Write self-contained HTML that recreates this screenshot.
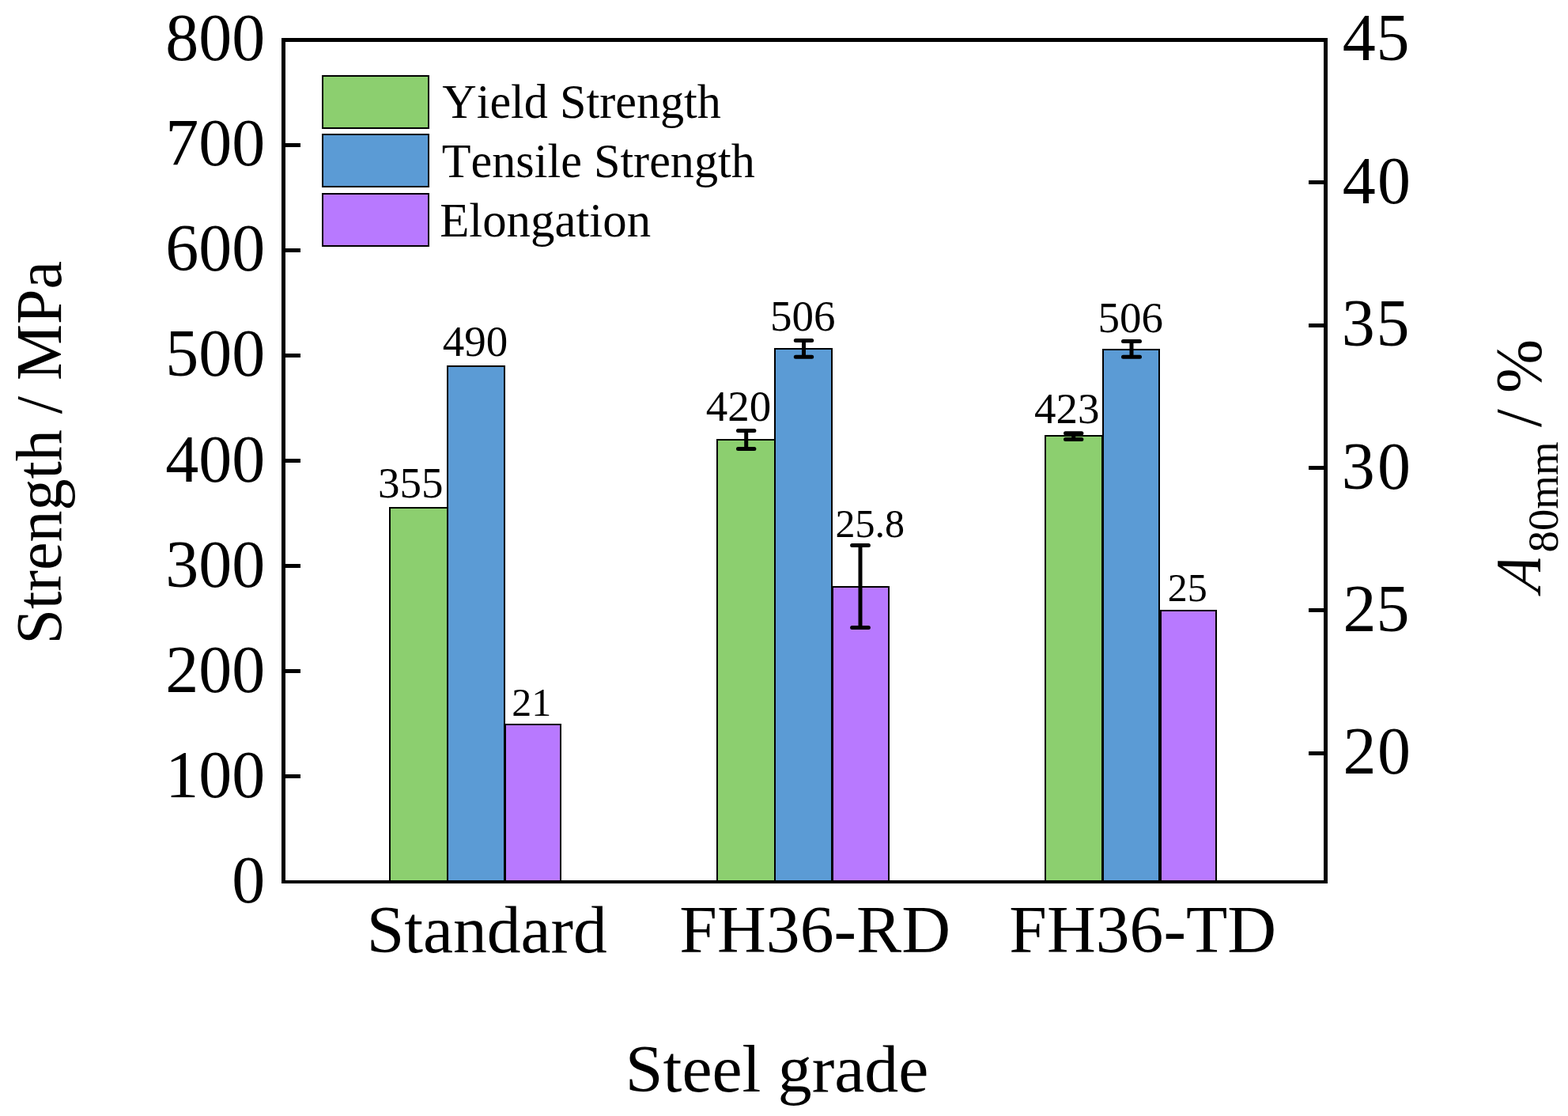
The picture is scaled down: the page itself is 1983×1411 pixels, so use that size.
<!DOCTYPE html>
<html lang="en">
<head>
<meta charset="utf-8">
<title>Strength and elongation by steel grade</title>
<style>
html,body{margin:0;padding:0;background:#fff;}
body{width:1983px;height:1411px;overflow:hidden;}
svg{display:block;}
text{font-family:"Liberation Serif","Times New Roman",serif;fill:#000;font-kerning:none;font-variant-ligatures:none;}
.sh{shape-rendering:crispEdges;}
.bar{stroke:#000;stroke-width:2;}
.eb{stroke:#000;stroke-width:5;stroke-linecap:round;fill:none;}
</style>
</head>
<body>
<svg width="1983" height="1411" viewBox="0 0 1983 1411" role="img" aria-label="Bar chart of yield strength, tensile strength and elongation by steel grade">
<rect x="0" y="0" width="1983" height="1411" fill="#fff"/>
<g class="sh">
<rect class="bar" x="493" y="642" width="73" height="473" fill="#8ccf6f"/>
<rect class="bar" x="566" y="463" width="72" height="652" fill="#5b9bd5"/>
<rect class="bar" x="639" y="916" width="70" height="199" fill="#b879ff"/>
<rect class="bar" x="907" y="556" width="73" height="559" fill="#8ccf6f"/>
<rect class="bar" x="980" y="441" width="72" height="674" fill="#5b9bd5"/>
<rect class="bar" x="1053" y="742" width="70.5" height="373" fill="#b879ff"/>
<rect class="bar" x="1322" y="551" width="72" height="564" fill="#8ccf6f"/>
<rect class="bar" x="1395" y="442" width="71" height="673" fill="#5b9bd5"/>
<rect class="bar" x="1468" y="772" width="70" height="343" fill="#b879ff"/>
</g>
<g>
<path class="eb" d="M943.7 544.5V567.4M933.5 544.5H953.9M933.5 567.4H953.9"/>
<path class="eb" d="M1016.5 430.5V451.3M1006.3 430.5H1026.7M1006.3 451.3H1026.7"/>
<path class="eb" d="M1088 689.6V793.6M1077.6 689.6H1098.4M1077.6 793.6H1098.4"/>
<path class="eb" d="M1357.7 547.8V555.6M1347.5 547.8H1367.9M1347.5 555.6H1367.9"/>
<path class="eb" d="M1431 431.5V451.3M1420.5 431.5H1441.5M1420.5 451.3H1441.5"/>
</g>
<g class="sh" fill="#000">
<rect x="356" y="48" width="1323" height="5"/>
<rect x="356" y="1113" width="1323" height="4"/>
<rect x="356" y="48" width="5" height="1069"/>
<rect x="1674" y="48" width="5" height="1069"/>
<rect x="361" y="181" width="19" height="5"/>
<rect x="361" y="314" width="19" height="5"/>
<rect x="361" y="447" width="19" height="5"/>
<rect x="361" y="580" width="19" height="5"/>
<rect x="361" y="713" width="19" height="5"/>
<rect x="361" y="846" width="19" height="5"/>
<rect x="361" y="979" width="19" height="5"/>
<rect x="1655" y="228" width="19" height="5"/>
<rect x="1655" y="409" width="19" height="5"/>
<rect x="1655" y="589" width="19" height="5"/>
<rect x="1655" y="769" width="19" height="5"/>
<rect x="1655" y="950" width="19" height="5"/>
</g>
<g>
<text transform="matrix(1 0 0 1.02 209.2 76)" font-size="84">800</text>
<text transform="matrix(1 0 0 1.02 209.2 209.12)" font-size="84">700</text>
<text transform="matrix(1 0 0 1.02 209.2 342.25)" font-size="84">600</text>
<text transform="matrix(1 0 0 1.02 209.2 475.38)" font-size="84">500</text>
<text transform="matrix(1 0 0 1.02 209.2 608.5)" font-size="84">400</text>
<text transform="matrix(1 0 0 1.02 209.2 741.62)" font-size="84">300</text>
<text transform="matrix(1 0 0 1.02 209.2 874.75)" font-size="84">200</text>
<text transform="matrix(1 0 0 1.02 209.2 1007.88)" font-size="84">100</text>
<text transform="matrix(1 0 0 1.02 293.2 1141)" font-size="84">0</text>
<text transform="matrix(1 0 0 1.02 0 76)" x="1697.79 1740.6" font-size="84">45</text>
<text transform="matrix(1 0 0 1.02 0 257)" x="1697.79 1742.05" font-size="84">40</text>
<text transform="matrix(1 0 0 1.02 0 437)" x="1696.68 1740.6" font-size="84">35</text>
<text transform="matrix(1 0 0 1.02 0 618)" x="1696.68 1742.05" font-size="84">30</text>
<text transform="matrix(1 0 0 1.02 0 798)" x="1698.42 1740.6" font-size="84">25</text>
<text transform="matrix(1 0 0 1.02 0 978)" x="1698.42 1742.05" font-size="84">20</text>
</g>
<g>
<text transform="matrix(1.0187 0 0 1.01 463.68 1204)" font-size="84">Standard</text>
<text transform="matrix(1.0198 0 0 1.015 859.33 1204)" font-size="84">FH36-RD</text>
<text transform="matrix(1.0195 0 0 1.015 1276.33 1204)" font-size="84">FH36-TD</text>
<text transform="matrix(1.0213 0 0 1.01 790.86 1380)" font-size="84">Steel grade</text>
</g>
<g>
<text transform="matrix(0 -1 1.02 0 77 814.41)" font-size="80">Strength / MPa</text>
<text transform="matrix(0 -0.8857 1.02 0.1949 1948.2 750.12)" font-size="80" font-style="italic">A</text>
<text transform="matrix(0 -1.0277 1.02 0 1969.8 698.49)" font-size="53.4">80mm</text>
<text transform="matrix(0 -1.0195 1.02 0 1948.2 540)" font-size="80">/ %</text>
</g>
<g class="sh">
<rect class="bar" x="408" y="96" width="134" height="66" fill="#8ccf6f"/>
<rect class="bar" x="408" y="170" width="134" height="66" fill="#5b9bd5"/>
<rect class="bar" x="408" y="245" width="134" height="66" fill="#b879ff"/>
</g>
<g>
<text transform="matrix(0.9868 0 0 1 559.22 148.8)" font-size="61">Yield Strength</text>
<text transform="matrix(0.9865 0 0 1 558.81 223.9)" font-size="61">Tensile Strength</text>
<text transform="matrix(0.9974 0 0 1 556.15 299.1)" font-size="61">Elongation</text>
</g>
<g>
<text transform="matrix(1 0 0 1 477.98 629.2)" font-size="55">355</text>
<text transform="matrix(1 0 0 1 559.86 449.7)" font-size="55">490</text>
<text transform="matrix(1 0 0 1 647.25 905.2)" font-size="50">21</text>
<text transform="matrix(1 0 0 1 892.86 531.5)" font-size="55">420</text>
<text transform="matrix(1 0 0 1 974.12 418)" font-size="55">506</text>
<text transform="matrix(1 0 0 1 1056.4 678.8)" font-size="50">25.8</text>
<text transform="matrix(1 0 0 1 1307.94 534.5)" font-size="55">423</text>
<text transform="matrix(1 0 0 1 1388.62 419.8)" font-size="55">506</text>
<text transform="matrix(1 0 0 1 1476.68 759.5)" font-size="50">25</text>
</g>
</svg>
</body>
</html>
